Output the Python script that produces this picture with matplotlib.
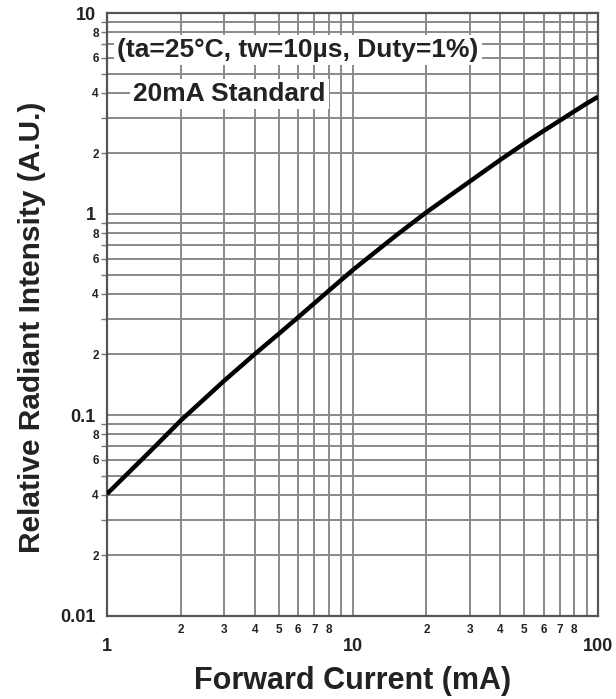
import numpy as np
import matplotlib.pyplot as plt
from matplotlib.ticker import FixedLocator, FixedFormatter

plt.rcParams['font.family'] = ['Liberation Sans', 'DejaVu Sans']
plt.rcParams['font.weight'] = 'bold'

# forward current (mA) vs relative radiant intensity
current = [1, 1.5, 2, 3, 4, 5, 6, 8, 10, 15, 20, 30, 40, 50, 60, 70, 80, 90, 100]
intensity = [0.0405, 0.066, 0.094, 0.148, 0.201, 0.253, 0.306, 0.415, 0.525,
             0.78, 1.02, 1.45, 1.86, 2.24, 2.59, 2.92, 3.24, 3.55, 3.83]

x_major = [1, 10, 100]
x_major_labels = ['1', '10', '100']
x_minor = [m * d for d in (1, 10) for m in range(2, 10)]
x_minor_labels = [str(m) if m < 9 else '' for d in (1, 10) for m in range(2, 10)]

y_major = [0.01, 0.1, 1, 10]
y_major_labels = ['0.01', '0.1', '1', '10']
y_minor = [m * d for d in (0.01, 0.1, 1) for m in range(2, 10)]
y_minor_labels = [str(m) if m in (2, 4, 6, 8) else '' for d in (0.01, 0.1, 1) for m in range(2, 10)]

fig = plt.figure(figsize=(6.16, 6.99), dpi=100)
ax = fig.add_axes([107 / 616, 1 - 616 / 699, (598 - 107) / 616, (616 - 13) / 699])

ax.set_xscale('log')
ax.set_yscale('log')
ax.set_xlim(1, 100)
ax.set_ylim(0.01, 10)

# ticks
ax.xaxis.set_major_locator(FixedLocator(x_major))
ax.xaxis.set_major_formatter(FixedFormatter(x_major_labels))
ax.xaxis.set_minor_locator(FixedLocator(x_minor))
ax.xaxis.set_minor_formatter(FixedFormatter(x_minor_labels))
ax.yaxis.set_major_locator(FixedLocator(y_major))
ax.yaxis.set_major_formatter(FixedFormatter(y_major_labels))
ax.yaxis.set_minor_locator(FixedLocator(y_minor))
ax.yaxis.set_minor_formatter(FixedFormatter(y_minor_labels))

ax.tick_params(axis='x', which='major', length=0, pad=16, labelsize=13)
ax.tick_params(axis='x', which='minor', length=0, pad=6, labelsize=8.5)
ax.tick_params(axis='y', which='major', length=0, pad=8, labelsize=13)
ax.tick_params(axis='y', which='minor', length=4, width=1, color='#777777', pad=2, labelsize=8.5)
for lab in ax.get_xticklabels(which='both') + ax.get_yticklabels(which='both'):
    lab.set_fontweight('bold')
    lab.set_color('#222222')

ax.grid(True, which='both', color='#8a8a8a', linewidth=1.4)
ax.set_axisbelow(True)
for sp in ax.spines.values():
    sp.set_color('#555555')
    sp.set_linewidth(1.6)

ax.plot(current, intensity, color='black', linewidth=3.2, solid_capstyle='butt', zorder=3)

# annotation boxes
ax.text(1.1, 6.55, '(ta=25°C, tw=10µs, Duty=1%)', fontsize=19, fontweight='bold',
        color='#222222', ha='left', va='center',
        bbox=dict(boxstyle='square,pad=0.12', facecolor='white', edgecolor='none'), zorder=4)
ax.text(1.28, 3.95, '20mA Standard', fontsize=19, fontweight='bold',
        color='#222222', ha='left', va='center',
        bbox=dict(boxstyle='square,pad=0.12', facecolor='white', edgecolor='none'), zorder=4)

ax.set_xlabel('Forward Current (mA)', fontsize=22, fontweight='bold', color='#222222', labelpad=8)
ax.set_ylabel('Relative Radiant Intensity (A.U.)', fontsize=21.5, fontweight='bold', color='#222222')
ax.yaxis.set_label_coords(-0.125, 0.479)

fig.savefig('out.png', dpi=100)
